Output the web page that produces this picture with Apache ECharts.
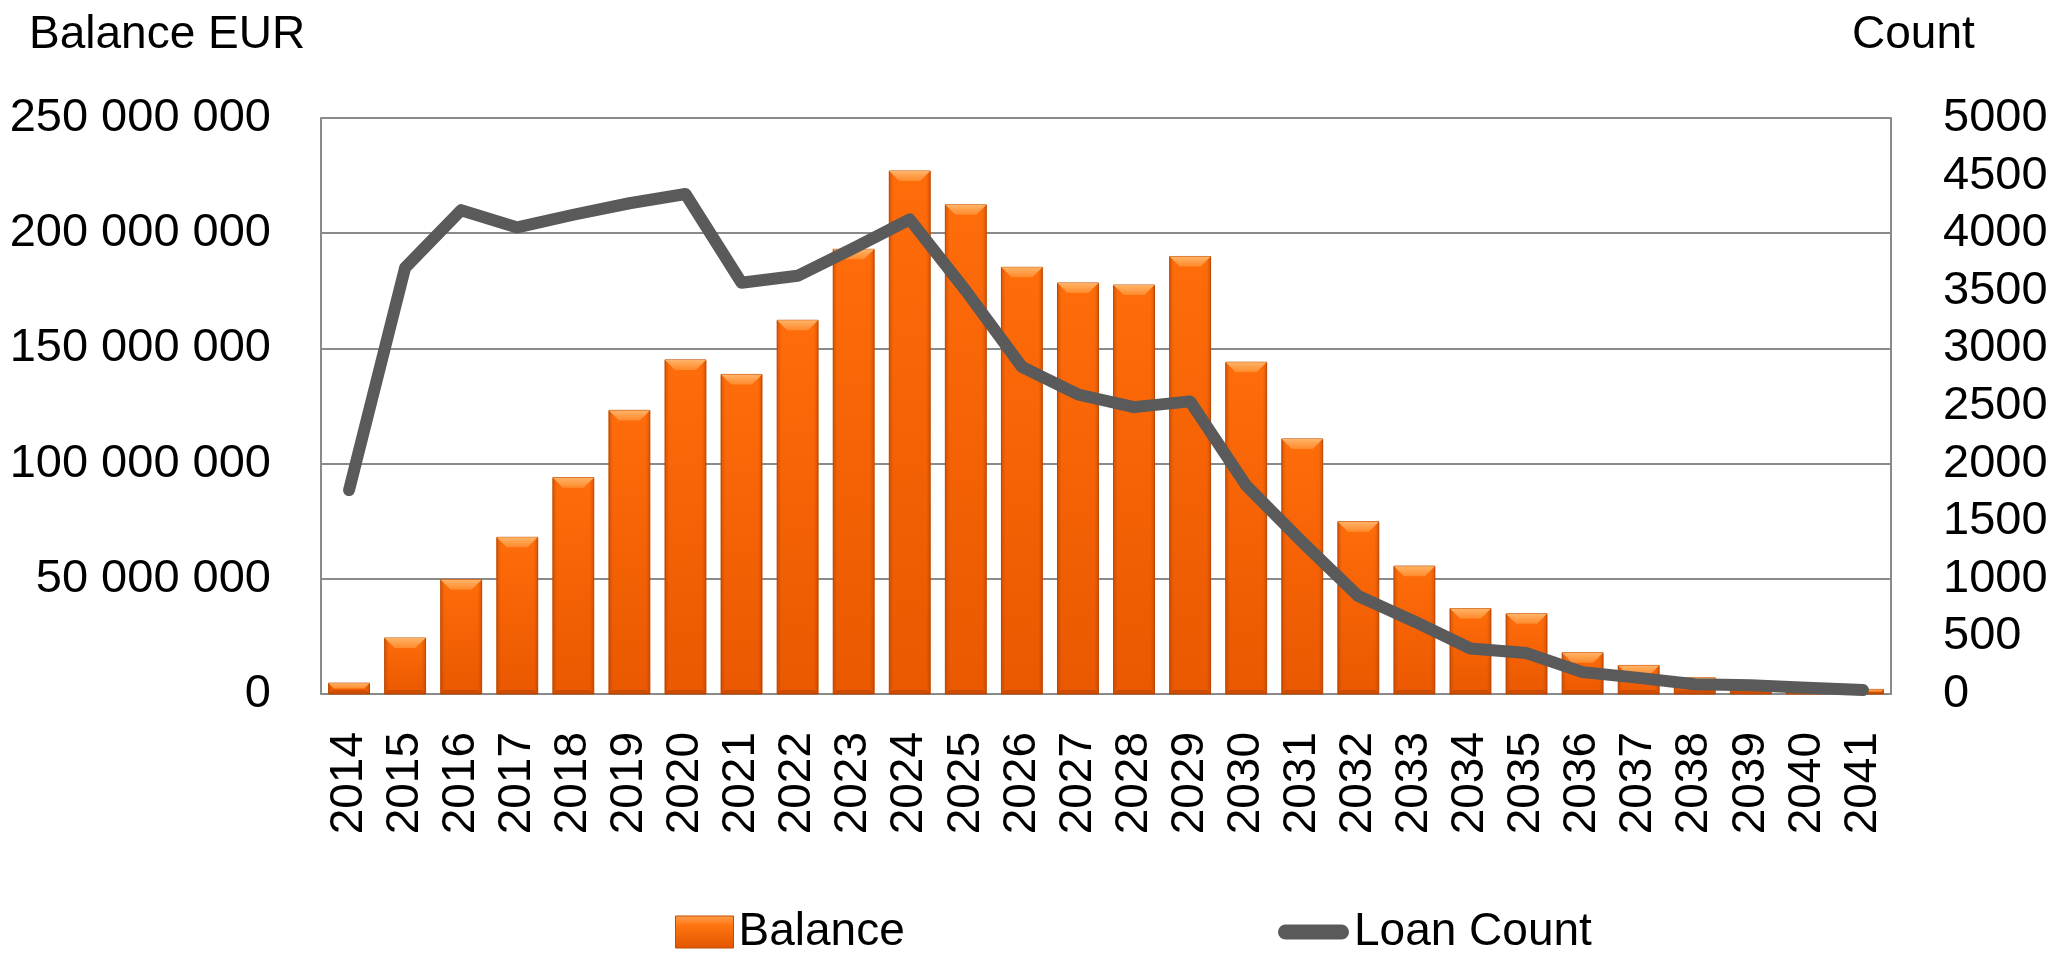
<!DOCTYPE html>
<html>
<head>
<meta charset="utf-8">
<script src="https://cdn.jsdelivr.net/npm/echarts@6/dist/echarts.min.js"></script>
<style>
html,body{margin:0;padding:0;background:#fff;}
#chart{width:2071px;height:953px;}
</style>
</head>
<body>
<div id="chart"></div>
<script>
// ---- data ----
const years = ['2014','2015','2016','2017','2018','2019','2020','2021','2022','2023','2024','2025','2026','2027','2028','2029','2030','2031','2032','2033','2034','2035','2036','2037','2038','2039','2040','2041'];
const balanceMillions = [4.7, 24.3, 49.6, 68.0, 93.9, 123.1, 145.0, 138.7, 162.2, 193.0, 227.0, 212.3, 185.2, 178.4, 177.5, 189.9, 144.0, 110.7, 74.8, 55.5, 37.1, 34.8, 17.9, 12.4, 7.0, 4.0, 2.5, 2.0];
const loanCount = [1770, 3700, 4200, 4050, 4160, 4260, 4340, 3570, 3630, 3870, 4120, 3500, 2840, 2600, 2490, 2540, 1810, 1320, 850, 630, 395, 355, 190, 140, 85, 75, 55, 35];
const leftTicks = {min: 0, max: 250000000, interval: 50000000};
const rightTicks = {min: 0, max: 5000, interval: 500};
const seriesNames = ['Balance', 'Loan Count'];
const axisTitles = ['Balance EUR', 'Count'];

const balance = balanceMillions.map(v => Math.round(v * 1e6));

const FONT = "'Liberation Sans', Arial, sans-serif";
const chart = echarts.init(document.getElementById('chart'), null, {renderer: 'canvas'});

function fmtSpaces(v) {
  return String(v).replace(/\B(?=(\d{3})+(?!\d))/g, ' ');
}

function renderBar(params, api) {
  const i = api.value(0), v = api.value(1);
  const top = api.coord([i, v]);
  const base = api.coord([i, 0]);
  const w = api.size([1, 0])[0] * 0.73;
  const l = top[0] - w / 2, r = top[0] + w / 2;
  const y0 = top[1], y1 = base[1];
  const h = Math.max(0, y1 - y0);
  const b = Math.min(10, h / 2, w / 2);
  const bb = Math.min(4, h / 2);
  return {
    type: 'group',
    children: [
      {type: 'rect', shape: {x: l, y: y0, width: w, height: h},
       style: {fill: new echarts.graphic.LinearGradient(0, 0, 0, 1, [
         {offset: 0, color: '#FF6C0A'}, {offset: 1, color: '#EA5800'}]),
         stroke: '#C24B00', lineWidth: 1}},
      {type: 'rect', shape: {x: l, y: y0, width: w, height: h},
       style: {fill: new echarts.graphic.LinearGradient(0, 0, 1, 0, [
         {offset: 0, color: 'rgba(150,50,0,0.35)'}, {offset: 0.1, color: 'rgba(150,50,0,0)'},
         {offset: 0.9, color: 'rgba(150,50,0,0)'}, {offset: 1, color: 'rgba(150,50,0,0.35)'}])}},
      {type: 'polygon', shape: {points: [[l, y0], [r, y0], [r - b, y0 + b], [l + b, y0 + b]]},
       style: {fill: new echarts.graphic.LinearGradient(0, 0, 0, 1, [
         {offset: 0, color: '#FFB468'}, {offset: 1, color: '#FF8A2C'}])}},
      {type: 'polygon', shape: {points: [[l, y1], [r, y1], [r - bb, y1 - bb], [l + bb, y1 - bb]]},
       style: {fill: 'rgba(170,60,0,0.45)'}}
    ]
  };
}

const option = {
  backgroundColor: '#ffffff',
  animation: false,
  textStyle: {fontFamily: FONT},
  grid: {left: 321, right: 180, top: 118, bottom: 259, containLabel: false, outerBoundsMode: 'none'},
  graphic: [
    {type: 'text', left: 29, top: 12, style: {text: axisTitles[0], font: '46px ' + FONT, fill: '#000'}},
    {type: 'text', left: 1852, top: 12, style: {text: axisTitles[1], font: '46px ' + FONT, fill: '#000'}}
  ],
  legend: [
    {left: 675, top: 909, padding: 0, itemWidth: 58, itemHeight: 32, itemGap: 0,
     textStyle: {fontFamily: FONT, fontSize: 46, color: '#000', lineHeight: 40},
     data: [{name: seriesNames[0], icon: 'rect', itemStyle: {color: new echarts.graphic.LinearGradient(0, 0, 0, 1, [
       {offset: 0, color: '#FFA050'}, {offset: 0.3, color: '#FF7410'}, {offset: 1, color: '#E05500'}]),
       borderColor: '#C24B00', borderWidth: 1}}]},
    {left: 1278, top: 909, padding: 0, itemWidth: 71, itemHeight: 15, itemGap: 0,
     textStyle: {fontFamily: FONT, fontSize: 46, color: '#000', lineHeight: 40},
     data: [{name: seriesNames[1], icon: 'path://M7.5,0 H63.5 A7.5,7.5 0 0 1 63.5,15 H7.5 A7.5,7.5 0 0 1 7.5,0 Z',
       itemStyle: {color: '#5A5A5A'}}]}
  ],
  xAxis: {
    type: 'category', data: years, boundaryGap: true,
    axisLine: {show: true, lineStyle: {color: '#8A8A8A', width: 2}},
    axisTick: {show: false},
    axisLabel: {rotate: 90, margin: 38, fontFamily: FONT, fontSize: 46, color: '#000', interval: 0}
  },
  yAxis: [
    {type: 'value', min: leftTicks.min, max: leftTicks.max, interval: leftTicks.interval,
     axisLine: {show: true, lineStyle: {color: '#8A8A8A', width: 2}},
     axisTick: {show: false},
     splitLine: {show: true, lineStyle: {color: '#8A8A8A', width: 2}},
     axisLabel: {margin: 50, fontFamily: FONT, fontSize: 47, color: '#000', formatter: fmtSpaces}},
    {type: 'value', min: rightTicks.min, max: rightTicks.max, interval: rightTicks.interval,
     position: 'right',
     axisLine: {show: true, lineStyle: {color: '#8A8A8A', width: 2}},
     axisTick: {show: false},
     splitLine: {show: false},
     axisLabel: {margin: 52, fontFamily: FONT, fontSize: 47, color: '#000', formatter: v => String(v)}}
  ],
  series: [
    {name: seriesNames[0], type: 'custom', renderItem: renderBar, yAxisIndex: 0, z: 2,
     itemStyle: {color: '#FF6A08'},
     encode: {x: 0, y: 1},
     data: balance.map((v, i) => [i, v])},
    {name: seriesNames[1], type: 'line', yAxisIndex: 1, z: 3, symbol: 'none',
     lineStyle: {color: '#5A5A5A', width: 12, join: 'round', cap: 'round'},
     itemStyle: {color: '#5A5A5A'},
     data: loanCount}
  ]
};
chart.setOption(option);
</script>
</body>
</html>
